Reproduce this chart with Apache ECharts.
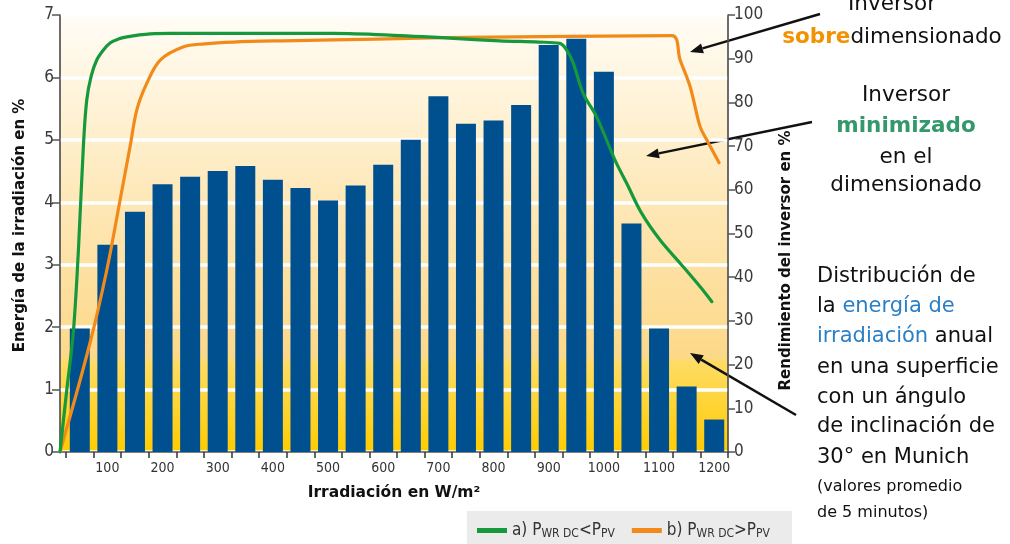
<!DOCTYPE html>
<html><head><meta charset="utf-8">
<script src="https://cdn.jsdelivr.net/npm/echarts@6/dist/echarts.min.js"></script>
<style>html,body{margin:0;padding:0;background:#fff}#c{width:1010px;height:544px}</style>
</head><body><div id="c"></div>
<script>
// ---- data ----
const bins = ['0-50','50-100','100-150','150-200','200-250','250-300','300-350','350-400','400-450','450-500','500-550','550-600','600-650','650-700','700-750','750-800','800-850','850-900','900-950','950-1000','1000-1050','1050-1100','1100-1150','1150-1200'];
const tickLabels = ['','100','','200','','300','','400','','500','','600','','700','','800','','900','','1000','','1100','','1200'];
const energy = [1.98, 3.32, 3.85, 4.29, 4.41, 4.5, 4.58, 4.36, 4.23, 4.03, 4.27, 4.6, 5.0, 5.7, 5.26, 5.31, 5.56, 6.52, 6.62, 6.09, 3.66, 1.98, 1.05, 0.52];
const greenW = [0, 12, 24, 33, 42, 48, 56, 66, 78, 90, 105, 120, 140, 162, 200, 251, 350, 491, 611, 700, 790, 860, 898, 910, 922, 940, 964, 997, 1018, 1045, 1078, 1114, 1150, 1171];
const greenP = [0, 14, 27.5, 46, 70, 80.5, 86, 89.7, 92, 93.6, 94.5, 95, 95.4, 95.7, 95.8, 95.8, 95.8, 95.8, 95.3, 94.7, 94.1, 93.8, 93.5, 92, 89, 82, 76.7, 66.8, 61.5, 54.6, 48.5, 43.2, 37.8, 34.4];
const orangeW = [0, 54, 84, 108, 126, 138, 156, 180, 221, 260, 311, 400, 491, 647, 730, 910, 1099, 1114, 1132, 1150, 1162, 1184];
const orangeP = [0, 25, 41.6, 57.7, 70, 78.3, 84.4, 89.7, 92.7, 93.4, 93.8, 94.1, 94.3, 94.7, 94.9, 95.1, 95.3, 89.7, 83.6, 74.4, 71.4, 66.2];
const leftTicks = {min: 0, max: 7, interval: 1};
const rightTicks = {min: 0, max: 100, interval: 10};

// ---- styles ----
const NARROW = "'Liberation Sans Narrow','DejaVu Sans Condensed','Roboto Condensed',sans-serif";
const ANN = "'DejaVu Sans',Verdana,sans-serif";
const axisCol = '#555';

function arrow(x1, y1, x2, y2) {
  const a = Math.atan2(y2 - y1, x2 - x1), L = 13, W = 5;
  const bx = x2 - L * Math.cos(a), by = y2 - L * Math.sin(a);
  const px = -Math.sin(a) * W, py = Math.cos(a) * W;
  return [
    {type: 'line', shape: {x1: x1, y1: y1, x2: bx, y2: by}, style: {stroke: '#111', lineWidth: 2.5}},
    {type: 'polygon', shape: {points: [[x2, y2], [bx + px, by + py], [bx - px, by - py]]}, style: {fill: '#111'}}
  ];
}
function txt(x, y, text, opt) {
  return {type: 'text', style: Object.assign({x: x, y: y, text: text, font: '21.5px ' + ANN, fill: '#111', align: 'center', verticalAlign: 'middle'}, opt || {})};
}
const F2 = '21px ' + ANN;
const blue = {b: {font: F2, fill: '#2b7fc6'}};

const chart = echarts.init(document.getElementById('c'), null, {renderer: 'canvas'});
const rich = {
  n: {fontFamily: NARROW, fontSize: 17, color: '#333'},
  s: {fontFamily: NARROW, fontSize: 12, color: '#333', padding: [7, 0, 0, 0]}
};
const option = {
  animation: false,
  backgroundColor: '#fff',
  grid: [
    {left: 60, right: 282, top: 15, bottom: 92, show: true, borderColor: '#666', borderWidth: 1,
     backgroundColor: {type: 'linear', x: 0, y: 0, x2: 0, y2: 1, colorStops: [
       {offset: 0, color: '#fffdf7'}, {offset: 0.15, color: '#fff5df'}, {offset: 0.4, color: '#fee9bb'},
       {offset: 0.6, color: '#fde0a0'}, {offset: 0.785, color: '#fcd888'}, {offset: 0.79, color: '#fedc66'},
       {offset: 1, color: '#ffcb00'}]}},
    {left: 66, right: 282, top: 15, bottom: 92}
  ],
  legend: {
    top: 511, left: 467, padding: [11, 22, 12, 10], backgroundColor: '#ebebeb',
    itemWidth: 30, itemHeight: 5, itemGap: 17, icon: 'rect',
    data: ['a', 'b'],
    formatter: function (n) {
      return n === 'a' ? '{n|a) P}{s|WR DC}{n|<P}{s|PV}' : '{n|b) P}{s|WR DC}{n|>P}{s|PV}';
    },
    textStyle: {fontFamily: NARROW, fontSize: 17, color: '#333', rich: rich}
  },
  xAxis: [
    {gridIndex: 0, type: 'value', min: 0, max: 1200,
     axisLine: {show: true, lineStyle: {color: axisCol, width: 1.5}}, axisTick: {show: false}, axisLabel: {show: false}, splitLine: {show: false},
     name: 'Irradiación en W/m²', nameLocation: 'middle', nameGap: 33,
     nameTextStyle: {fontFamily: ANN, fontWeight: 'bold', fontSize: 15.5, color: '#111'}},
    {gridIndex: 1, type: 'category', data: bins,
     axisLine: {show: false}, axisTick: {show: true, interval: 0, length: 6, lineStyle: {color: '#333', width: 1.5}},
     axisLabel: {interval: 0, margin: 9, fontFamily: NARROW, fontSize: 14, color: '#333',
       formatter: function (v, i) { return tickLabels[i]; }},
     splitLine: {show: false}}
  ],
  yAxis: [
    {gridIndex: 0, type: 'value', min: leftTicks.min, max: leftTicks.max, interval: leftTicks.interval, position: 'left',
     axisLine: {show: true, lineStyle: {color: axisCol, width: 1.5}}, axisTick: {show: true, length: 8, lineStyle: {color: axisCol, width: 1.5}},
     axisLabel: {margin: 6, fontFamily: NARROW, fontSize: 17, color: '#3a3a3a'},
     splitLine: {show: true, lineStyle: {color: '#ffffff', width: 3.5}},
     name: 'Energía de la irradiación en %', nameLocation: 'middle', nameGap: 32,
     nameTextStyle: {fontFamily: ANN, fontWeight: 'bold', fontSize: 15, color: '#111', padding: [0, 0, 0, 16]}},
    {gridIndex: 0, type: 'value', min: rightTicks.min, max: rightTicks.max, interval: rightTicks.interval, position: 'right',
     axisLine: {show: true, lineStyle: {color: axisCol, width: 1.5}}, axisTick: {show: true, length: 7, lineStyle: {color: axisCol, width: 1.5}},
     axisLabel: {margin: 6, fontFamily: NARROW, fontSize: 17, color: '#3a3a3a'},
     splitLine: {show: false},
     name: 'Rendimiento del inversor en %', nameLocation: 'middle', nameGap: 51, nameRotate: 90,
     nameTextStyle: {fontFamily: ANN, fontWeight: 'bold', fontSize: 15, color: '#111', padding: [0, 54, 0, 0]}},
    {gridIndex: 1, type: 'value', min: leftTicks.min, max: leftTicks.max, show: false}
  ],
  series: [
    {name: 'energy', type: 'bar', xAxisIndex: 1, yAxisIndex: 2, data: energy, barWidth: 20,
     itemStyle: {color: '#00508f'}, z: 2},
    {name: 'a', type: 'line', xAxisIndex: 0, yAxisIndex: 1, data: greenW.map((w, i) => [w, greenP[i]]),
     showSymbol: false, smooth: 0.35, color: '#16983c',
     lineStyle: {width: 3.2, color: '#16983c', cap: 'round', join: 'round'}, z: 4},
    {name: 'b', type: 'line', xAxisIndex: 0, yAxisIndex: 1, data: orangeW.map((w, i) => [w, orangeP[i]]),
     showSymbol: false, smooth: 0.35, color: '#f28a1a',
     lineStyle: {width: 3.2, color: '#f28a1a', cap: 'round', join: 'round'}, z: 3}
  ],
  graphic: [].concat(
    arrow(820, 14, 690, 52),
    arrow(812, 122, 646, 156),
    arrow(796, 415, 690, 353),
    [
      txt(892, 4, 'Inversor'),
      txt(892, 37, '{o|sobre}dimensionado', {rich: {o: {font: 'bold 21.5px ' + ANN, fill: '#f39200'}}}),
      txt(906, 95, 'Inversor'),
      txt(906, 126, 'minimizado', {font: 'bold 21.5px ' + ANN, fill: '#34996a'}),
      txt(906, 157, 'en el'),
      txt(906, 185, 'dimensionado'),
      txt(817, 277, 'Distribución de', {align: 'left', font: F2}),
      txt(817, 307, 'la {b|energía de}', {align: 'left', font: F2, rich: blue}),
      txt(817, 337, '{b|irradiación} anual', {align: 'left', font: F2, rich: blue}),
      txt(817, 368, 'en una superficie', {align: 'left', font: F2}),
      txt(817, 398, 'con un ángulo', {align: 'left', font: F2}),
      txt(817, 427, 'de inclinación de', {align: 'left', font: F2}),
      txt(817, 458, '30° en Munich', {align: 'left', font: F2}),
      txt(817, 487, '(valores promedio', {align: 'left', font: '16px ' + ANN}),
      txt(817, 513, 'de 5 minutos)', {align: 'left', font: '16px ' + ANN})
    ]
  )
};
chart.setOption(option);
</script></body></html>
